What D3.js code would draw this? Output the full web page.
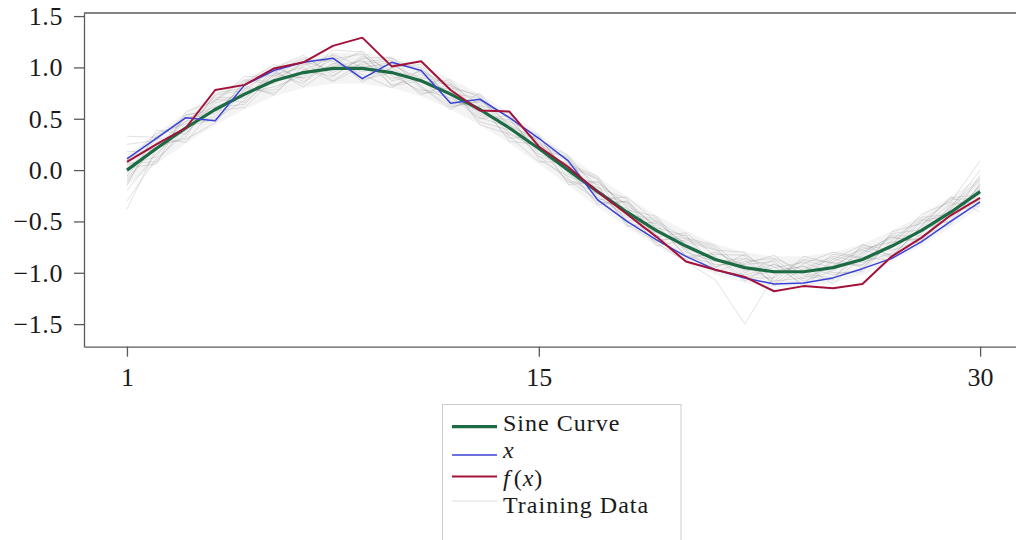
<!DOCTYPE html>
<html>
<head>
<meta charset="utf-8">
<script src="https://cdn.jsdelivr.net/npm/d3@7/dist/d3.min.js"></script>
<style>
  html, body { margin: 0; padding: 0; background: #ffffff; }
  svg { display: block; }
  text { font-family: "Liberation Serif", "DejaVu Serif", serif; fill: #1a1a1a; }
</style>
</head>
<body>
<svg id="chart" width="1016" height="540"></svg>
<script>
// Sample positions along the horizontal axis
const steps = [1, 2, 3, 4, 5, 6, 7, 8, 9, 10, 11, 12, 13, 14, 15,
               16, 17, 18, 19, 20, 21, 22, 23, 24, 25, 26, 27, 28, 29, 30];

// Clean sine curve
const sineCurve = [0.00, 0.21, 0.41, 0.59, 0.74, 0.87, 0.95, 0.99, 0.99, 0.95,
                   0.87, 0.74, 0.59, 0.41, 0.21, 0.00, -0.21, -0.41, -0.59, -0.74,
                   -0.87, -0.95, -0.99, -0.99, -0.95, -0.87, -0.74, -0.59, -0.41, -0.21];

// Noisy input sequence x
const inputX = [0.11, 0.31, 0.51, 0.48, 0.83, 0.97, 1.05, 1.09, 0.89, 1.05,
                0.97, 0.65, 0.69, 0.51, 0.31, 0.09, -0.29, -0.50, -0.68, -0.84,
                -0.97, -1.05, -1.11, -1.10, -1.05, -0.96, -0.86, -0.70, -0.50, -0.31];

// Model output f(x)
const outputFx = [0.08, 0.25, 0.41, 0.78, 0.83, 0.99, 1.05, 1.21, 1.29, 1.01,
                  1.06, 0.78, 0.58, 0.57, 0.23, 0.03, -0.21, -0.43, -0.65, -0.89,
                  -0.97, -1.04, -1.18, -1.13, -1.15, -1.11, -0.84, -0.66, -0.44, -0.27];

// A sample of the noisy training sequences
const train01 = [0.05, 0.13, 0.53, 0.61, 0.64, 0.94, 1.10, 0.95, 1.08, 0.83, 0.90, 0.85, 0.53, 0.49, 0.19, 0.13, -0.30, -0.37, -0.74, -0.68, -0.77, -1.00, -0.87, -1.06, -0.93, -0.78, -0.85, -0.54, -0.27, -0.24];
const train02 = [-0.12, 0.27, 0.38, 0.73, 0.78, 0.78, 0.97, 1.10, 0.86, 1.00, 1.03, 0.67, 0.62, 0.31, 0.33, -0.04, -0.14, -0.55, -0.50, -0.73, -0.95, -0.82, -1.01, -0.93, -1.11, -0.83, -0.66, -0.68, -0.38, -0.10];
const train03 = [0.18, 0.19, 0.48, 0.48, 0.83, 1.00, 0.89, 1.03, 1.16, 0.92, 0.77, 0.80, 0.73, 0.36, 0.23, -0.12, -0.11, -0.36, -0.63, -0.87, -0.80, -0.93, -1.09, -0.84, -0.91, -0.93, -0.62, -0.58, -0.49, -0.05];
const train04 = [-0.06, 0.31, 0.27, 0.62, 0.72, 0.95, 0.84, 1.13, 1.00, 1.05, 0.82, 0.61, 0.68, 0.45, 0.13, 0.06, -0.06, -0.44, -0.47, -0.80, -0.89, -0.86, -0.94, -1.11, -0.87, -0.73, -0.78, -0.69, -0.34, -0.30];
const train05 = [0.09, 0.36, 0.45, 0.52, 0.87, 0.84, 1.05, 0.87, 1.05, 1.09, 0.95, 0.72, 0.50, 0.53, 0.26, 0.02, -0.34, -0.30, -0.56, -0.64, -0.98, -1.02, -0.95, -0.90, -1.00, -0.99, -0.68, -0.46, -0.43, -0.16];
const train06 = [-0.20, 0.16, 0.43, 0.69, 0.66, 0.91, 1.08, 1.06, 0.93, 0.80, 0.98, 0.79, 0.47, 0.39, 0.30, 0.14, -0.20, -0.49, -0.52, -0.84, -0.82, -0.83, -1.13, -0.96, -0.84, -0.90, -0.81, -0.50, -0.29, -0.27];
const train07 = [0.12, 0.22, 0.32, 0.75, 0.80, 0.75, 0.98, 0.91, 1.11, 0.97, 0.73, 0.84, 0.63, 0.56, 0.10, -0.06, -0.17, -0.28, -0.68, -0.66, -0.73, -0.98, -0.92, -1.01, -1.05, -0.81, -0.64, -0.64, -0.53, -0.13];
const train08 = [-0.02, 0.33, 0.50, 0.55, 0.85, 1.03, 0.86, 1.04, 0.96, 1.03, 1.00, 0.64, 0.66, 0.28, 0.25, 0.10, -0.27, -0.39, -0.45, -0.78, -0.99, -0.89, -0.86, -0.98, -0.86, -0.95, -0.71, -0.48, -0.46, -0.19];
const train09 = [0.25, 0.29, 0.54, 0.58, 0.61, 0.89, 1.03, 1.12, 0.90, 0.99, 0.85, 0.88, 0.55, 0.47, 0.34, -0.09, -0.23, -0.32, -0.65, -0.61, -0.84, -1.05, -1.05, -0.88, -0.95, -0.75, -0.83, -0.57, -0.32, -0.32];
const train10 = [-0.30, 0.11, 0.36, 0.65, 0.76, 0.81, 0.92, 1.08, 1.13, 0.87, 0.93, 0.75, 0.70, 0.50, 0.16, 0.04, -0.09, -0.51, -0.61, -0.70, -0.78, -0.80, -1.08, -1.05, -0.82, -0.86, -0.87, -0.62, -0.35, -0.08];
const train11 = [0.02, 0.06, 0.57, 0.67, 0.88, 0.86, 1.06, 0.97, 1.03, 1.07, 0.79, 0.70, 0.57, 0.44, 0.29, -0.14, -0.12, -0.34, -0.54, -0.83, -0.92, -0.92, -0.89, -1.14, -0.89, -0.77, -0.70, -0.66, -0.44, -0.18];
const train12 = [-0.09, 0.25, 0.30, 0.46, 0.79, 0.97, 0.81, 1.01, 1.06, 0.89, 0.96, 0.82, 0.71, 0.33, 0.08, 0.08, -0.25, -0.46, -0.49, -0.67, -0.75, -1.04, -0.98, -0.94, -1.02, -0.97, -0.60, -0.52, -0.40, -0.35];
const train13 = [0.33, 0.32, 0.47, 0.71, 0.70, 0.93, 1.00, 0.86, 1.01, 1.02, 0.89, 0.62, 0.67, 0.51, 0.27, 0.11, -0.16, -0.53, -0.70, -0.63, -0.94, -0.87, -1.11, -0.91, -0.80, -0.85, -0.76, -0.49, -0.51, -0.14];
const train14 = [-0.38, 0.21, 0.51, 0.57, 0.82, 0.73, 1.02, 1.09, 0.88, 0.95, 0.75, 0.77, 0.51, 0.42, 0.31, -0.02, -0.32, -0.31, -0.57, -0.77, -0.85, -1.08, -0.91, -1.08, -0.98, -0.80, -0.65, -0.71, -0.37, 0.00];
const train15 = [-0.15, 0.39, 0.35, 0.68, 0.91, 0.92, 0.90, 1.17, 1.15, 0.82, 0.87, 0.83, 0.44, 0.35, 0.21, 0.05, -0.08, -0.41, -0.71, -0.89, -1.07, -1.50, -1.03, -0.87, -0.90, -0.92, -0.73, -0.43, -0.31, 0.09];
const train16 = [0.07, 0.08, 0.42, 0.50, 0.68, 0.99, 1.12, 0.92, 1.09, 1.10, 0.81, 0.59, 0.75, 0.41, 0.14, -0.10, -0.29, -0.26, -0.51, -0.72, -0.87, -0.91, -0.83, -1.03, -1.07, -0.72, -0.84, -0.55, -0.26, -0.41];

// Where most of the training sequences lie
const coreUpper = [0.15, 0.36, 0.56, 0.74, 0.89, 1.02, 1.10, 1.14, 1.14, 1.10, 1.02, 0.89, 0.74, 0.56, 0.36, 0.15, -0.06, -0.26, -0.44, -0.59, -0.72, -0.80, -0.84, -0.84, -0.80, -0.72, -0.59, -0.44, -0.26, -0.06];
const coreLower = [-0.15, 0.06, 0.26, 0.44, 0.59, 0.72, 0.80, 0.84, 0.84, 0.80, 0.72, 0.59, 0.44, 0.26, 0.06, -0.15, -0.36, -0.56, -0.74, -0.89, -1.02, -1.10, -1.14, -1.14, -1.10, -1.02, -0.89, -0.74, -0.56, -0.36];

// Axis ticks
const xTicks = [1, 15, 30];
const yTicks = [-1.5, -1.0, -0.5, 0.0, 0.5, 1.0, 1.5];

const trainingSet = [train01, train02, train03, train04, train05, train06, train07, train08,
                     train09, train10, train11, train12, train13, train14, train15, train16];

const svg = d3.select("#chart");
const plot = { left: 84, right: 1016, top: 13, bottom: 346.7 };

const x = d3.scaleLinear().domain([-0.46, 31.22]).range([plot.left, plot.right]);
const y = d3.scaleLinear().domain([-1.72, 1.53]).range([plot.bottom, plot.top]);

const colors = { sine: "#1d6b45", input: "#3a43d6", output: "#a3123a", train: "#707070", axis: "#5a5a5a" };

const line = d3.line().x((d, i) => x(steps[i])).y(d => y(d));

// Faint haze where the training sequences are densest
const core = d3.area()
  .x((d, i) => x(steps[i]))
  .y0((d, i) => y(coreLower[i]))
  .y1((d, i) => y(coreUpper[i]));
svg.append("path").datum(steps).attr("d", core)
  .attr("fill", "#000").attr("fill-opacity", 0.045);

// Training sequences
svg.append("g").selectAll("path").data(trainingSet).join("path")
  .attr("d", line)
  .attr("fill", "none")
  .attr("stroke", colors.train)
  .attr("stroke-opacity", 0.2)
  .attr("stroke-width", 1)
  .attr("stroke-linejoin", "round");

// Sine, x and f(x)
svg.append("path").datum(sineCurve).attr("d", line)
  .attr("fill", "none").attr("stroke", colors.sine).attr("stroke-width", 3.2)
  .attr("stroke-linejoin", "round");
svg.append("path").datum(inputX).attr("d", line)
  .attr("fill", "none").attr("stroke", colors.input).attr("stroke-width", 1.5)
  .attr("stroke-linejoin", "round");
svg.append("path").datum(outputFx).attr("d", line)
  .attr("fill", "none").attr("stroke", colors.output).attr("stroke-width", 2)
  .attr("stroke-linejoin", "round");

// Top spine
svg.append("line").attr("x1", plot.left).attr("x2", plot.right)
  .attr("y1", plot.top).attr("y2", plot.top)
  .attr("stroke", colors.axis).attr("stroke-width", 1.3);

const fontSize = 26;

// Y axis
const yAxis = svg.append("g")
  .attr("transform", `translate(${plot.left},0)`)
  .call(d3.axisLeft(y).tickValues(yTicks).tickFormat(d3.format(".1f"))
    .tickSizeInner(10).tickSizeOuter(0).tickPadding(11));
yAxis.select(".domain").attr("stroke", colors.axis).attr("stroke-width", 1.3);
yAxis.selectAll(".tick line").attr("stroke", colors.axis).attr("stroke-width", 1.3);
yAxis.selectAll(".tick text")
  .attr("font-size", fontSize)
  .attr("font-family", "Liberation Serif, serif")
  .attr("letter-spacing", 0.6)
  .attr("fill", "#1a1a1a");

// X axis
const xAxis = svg.append("g")
  .attr("transform", `translate(0,${plot.bottom})`)
  .call(d3.axisBottom(x).tickValues(xTicks).tickFormat(d3.format("d"))
    .tickSizeInner(10).tickSizeOuter(0).tickPadding(11));
xAxis.select(".domain").attr("stroke", colors.axis).attr("stroke-width", 1.3);
xAxis.selectAll(".tick line").attr("stroke", colors.axis).attr("stroke-width", 1.3);
xAxis.selectAll(".tick text")
  .attr("font-size", fontSize)
  .attr("font-family", "Liberation Serif, serif")
  .attr("fill", "#1a1a1a");

// Legend
const legendFont = 24;
const legend = svg.append("g");
legend.append("rect")
  .attr("x", 442.5).attr("y", 404.5).attr("width", 238.5).attr("height", 150)
  .attr("fill", "#ffffff").attr("stroke", "#cccccc").attr("stroke-width", 1);

const legendRows = [
  { key: "sine", lineY: 426.7, textY: 431, color: colors.sine, width: 3.2 },
  { key: "x", lineY: 455, textY: 458, color: colors.input, width: 1.5 },
  { key: "fx", lineY: 476.5, textY: 486, color: colors.output, width: 2 },
  { key: "train", lineY: 501, textY: 513, color: "#dedede", width: 1 }
];

legendRows.forEach(r => {
  legend.append("line")
    .attr("x1", 452).attr("x2", 497).attr("y1", r.lineY).attr("y2", r.lineY)
    .attr("stroke", r.color).attr("stroke-width", r.width);
  const t = legend.append("text").attr("x", 503).attr("y", r.textY)
    .attr("font-size", legendFont).attr("letter-spacing", 1);
  if (r.key === "sine") t.text("Sine Curve");
  else if (r.key === "train") t.text("Training Data");
  else if (r.key === "x") t.append("tspan").attr("font-style", "italic").text("x");
  else {
    t.append("tspan").attr("font-style", "italic").text("f");
    t.append("tspan").attr("dx", 3).text("(");
    t.append("tspan").attr("font-style", "italic").text("x");
    t.append("tspan").text(")");
  }
});
</script>
</body>
</html>
